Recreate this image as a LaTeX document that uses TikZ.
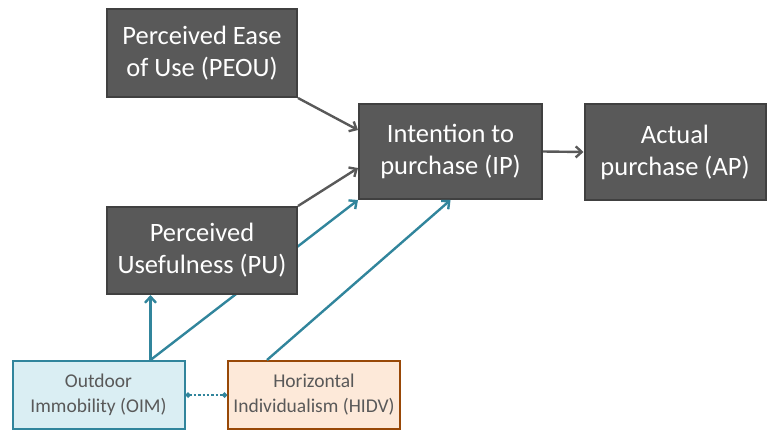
\documentclass[tikz,border=0pt]{standalone}
\usepackage{fontspec}
\setmainfont{Carlito}
\usepackage{tikz}
\usetikzlibrary{positioning,arrows.meta,backgrounds}
\definecolor{tamdark}{RGB}{89,89,89}
\definecolor{tamedge}{RGB}{64,64,64}
\definecolor{tamteal}{RGB}{49,133,156}
\definecolor{tamblue}{RGB}{218,238,243}
\definecolor{tampeach}{RGB}{253,233,217}
\definecolor{tambrown}{RGB}{152,72,7}

\begin{document}
\begin{tikzpicture}[x=1pt,y=-1pt,
  construct/.style={draw=tamedge,line width=2pt,fill=tamdark,text=white,
    align=center,inner sep=0pt,font=\fontsize{26.5}{32}\selectfont},
  moderator/.style={line width=2pt,text=tamdark,align=center,inner sep=0pt,
    font=\fontsize{19.5}{25}\selectfont,minimum width=172,minimum height=68},
  grayarrow/.style={draw=tamdark,line width=2.4pt,-{Straight Barb[length=6pt,width=11pt]}},
  tealarrow/.style={draw=tamteal,line width=2.4pt,-{Straight Barb[length=6pt,width=11pt]}}]
\useasboundingbox (0,0) rectangle (768,431);

% Constructs of the model
\node[construct,minimum width=190,minimum height=88] (peou) at (202,53) {Perceived Ease\\of Use (PEOU)};
\node[construct,minimum width=190,minimum height=87] (pu) at (202,250.5) {Perceived\\Usefulness (PU)};
\node[construct,minimum width=183,minimum height=95] (ip) at (450.5,151.5) {Intention to\\purchase (IP)};
\node[construct,minimum width=181,minimum height=96] (ap) at (675,152) {Actual\\purchase (AP)};

% Moderators
\node[moderator,draw=tamteal,fill=tamblue] (oim) at (98.5,395) {Outdoor\\Immobility (OIM)};
\node[moderator,draw=tambrown,fill=tampeach] (hidv) at (314,395) {Horizontal\\Individualism (HIDV)};

% Paths
\draw[grayarrow] (peou.south east) -- ([yshift=21.5]ip.west);
\draw[grayarrow] (pu.north east) -- ([yshift=-16.5]ip.west);
\draw[grayarrow] (ip.east) -- (ap.west);
\draw[tealarrow] ([xshift=52]oim.north) -- ([xshift=52]oim.north |- pu.south);
\begin{scope}[on background layer]
\draw[tealarrow] ([xshift=52]oim.north) -- (ip.south west);
\end{scope}
\draw[tealarrow] ([xshift=-47]hidv.north) -- (ip.south);
\draw[tamteal,line width=2.4pt,dotted,{Circle[length=5pt]}-{Circle[length=5pt]}] (oim.east) -- (hidv.west);
\end{tikzpicture}
\end{document}
